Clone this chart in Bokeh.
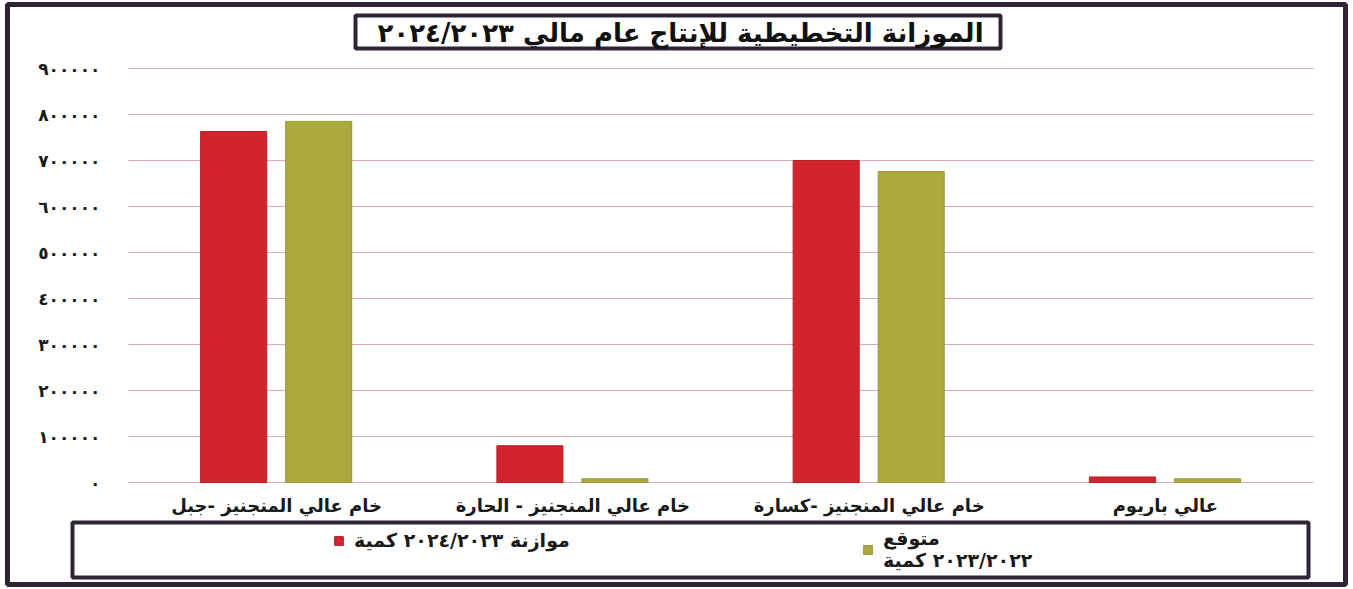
from bokeh.plotting import figure
from bokeh.models import (ColumnDataSource, Range1d, FixedTicker,
                          BoxAnnotation, Label, Legend, LegendItem)
from bokeh.transform import dodge
from bokeh.embed import file_html
from bokeh.resources import INLINE

# ---------------- data ----------------
categories = ["خام عالي المنجنيز -جبل", "خام عالي المنجنيز - الحارة",
              "خام عالي المنجنيز -كسارة", "عالي باريوم"]
budget_2023_2024 = [763000, 80000, 700000, 12000]
expected_2022_2023 = [785000, 8000, 676000, 8000]
series_names = ["موازنة ٢٠٢٤/٢٠٢٣ كمية", "متوقع\n٢٠٢٣/٢٠٢٢ كمية"]
title_text = "الموزانة التخطيطية للإنتاج عام مالي ٢٠٢٤/٢٠٢٣"
y_ticks = [0, 100000, 200000, 300000, 400000, 500000, 600000, 700000, 800000, 900000]
y_tick_labels = ["٠", "١٠٠٠٠٠", "٢٠٠٠٠٠", "٣٠٠٠٠٠", "٤٠٠٠٠٠",
                 "٥٠٠٠٠٠", "٦٠٠٠٠٠", "٧٠٠٠٠٠", "٨٠٠٠٠٠", "٩٠٠٠٠٠"]

FONT = "DejaVu Sans"
RED = "#d3232c"
OLIVE = "#ada93c"
FRAME = "#2e2436"
GRID = "#d6a9bb"

W, H = 1353, 589
# plot-area geometry (canvas pixels)
PL, PR, PT, PB = 128, 1313, 68, 482
FW = (PR - PL) / len(categories)
YMAX = 900000
PX_PER_UNIT = (PB - PT) / YMAX


def dx(fx):
    return (fx - PL) / FW


def dy(fy):
    return (PB - fy) / PX_PER_UNIT


# outer frame edges
FL, FR, FT, FB = 7, 1345, 4, 584

xs = [i + 0.5 for i in range(len(categories))]
src = ColumnDataSource(dict(x=xs, cat=categories, budget=budget_2023_2024,
                            expected=expected_2022_2023))

p = figure(x_range=Range1d(dx(FL), dx(FR)), y_range=Range1d(dy(FB), dy(FT)),
           width=W, height=H, output_backend="svg", toolbar_location=None,
           min_border_left=FL, min_border_right=W - FR,
           min_border_top=FT, min_border_bottom=H - FB)
p.outline_line_color = FRAME
p.outline_line_width = 5
p.background_fill_color = "white"
p.border_fill_color = "white"
p.xgrid.grid_line_color = None
p.ygrid.grid_line_color = None

# horizontal grid lines across the plot area only
p.segment(x0=[0] * len(y_ticks), x1=[len(categories)] * len(y_ticks),
          y0=y_ticks, y1=y_ticks, line_color=GRID, line_width=1.2)

r1 = p.vbar(x=dodge("x", -0.145), top="budget", width=0.223,
            source=src, fill_color=RED, line_color="#b91f27", line_width=1)
r2 = p.vbar(x=dodge("x", 0.142), top="expected", width=0.223,
            source=src, fill_color=OLIVE, line_color="#9a9634", line_width=1)

# axes fixed inside the frame
p.yaxis.fixed_location = 0
p.yaxis.ticker = FixedTicker(ticks=y_ticks)
p.yaxis.major_label_overrides = {t: l for t, l in zip(y_ticks, y_tick_labels)}
p.xaxis.fixed_location = 0
p.xaxis.ticker = FixedTicker(ticks=xs)
p.xaxis.major_label_overrides = {x: c for x, c in zip(xs, categories)}
for ax in (p.xaxis, p.yaxis):
    ax.axis_line_color = None
    ax.major_tick_line_color = None
    ax.minor_tick_line_color = None
    ax.major_label_text_font = FONT
    ax.major_label_text_font_style = "bold"
    ax.major_label_text_color = "#1a1a1a"
p.yaxis.major_label_text_font_size = "17px"
p.yaxis.major_label_standoff = 22
p.xaxis.major_label_text_font_size = "18px"
p.xaxis.major_label_standoff = 6

# title box + title
p.add_layout(BoxAnnotation(left=dx(355), right=dx(1000), top=dy(15), bottom=dy(48),
                           fill_color="white", fill_alpha=1, line_color=FRAME,
                           line_alpha=1, line_width=4))
p.add_layout(Label(x=dx(680), y=dy(32), text=title_text, text_align="center",
                   text_baseline="middle", text_font=FONT, text_font_style="bold",
                   text_font_size="26px", text_color="#111111"))
# legend box
p.add_layout(BoxAnnotation(left=dx(72), right=dx(1308), top=dy(522), bottom=dy(577),
                           fill_alpha=0, line_color=FRAME, line_alpha=1, line_width=4))

legend_style = dict(orientation="horizontal", glyph_width=11, glyph_height=11,
                    padding=0, margin=0,
                    border_line_color=None, background_fill_alpha=0,
                    label_text_font=FONT, label_text_font_style="bold",
                    label_text_font_size="19px", label_text_color="#1a1a1a",
                    label_text_line_height=1.0)
legend_budget = Legend(items=[LegendItem(label=series_names[0], renderers=[r1])],
                       location=(333 - FL, FB - 551), label_standoff=10,
                       **legend_style)
legend_expected = Legend(items=[LegendItem(label=series_names[1], renderers=[r2])],
                         location=(862 - FL, FB - 571), label_standoff=10,
                         label_text_align="right", **legend_style)
p.add_layout(legend_budget)
p.add_layout(legend_expected)

open("out.html", "w").write(file_html(p, INLINE))
